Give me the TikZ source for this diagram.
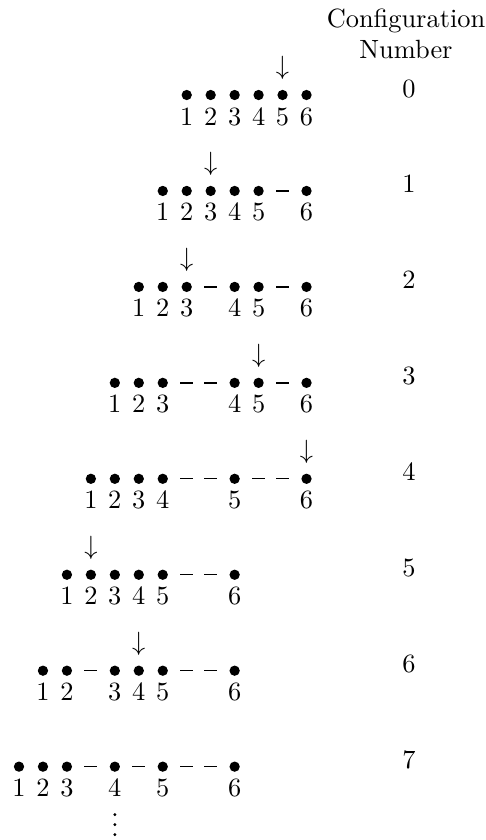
\documentclass[tikz,border=0pt]{standalone}
\usetikzlibrary{calc}
\begin{document}
\begin{tikzpicture}[x=0.379pt,y=-0.379pt,
  dot/.style={circle,fill=black,inner sep=0pt,minimum size=3.9pt},
  gap/.style={rectangle,fill=black,inner sep=0pt,minimum width=5pt,minimum height=0.5pt},
  idx/.style={anchor=base,inner sep=0pt},
  pick/.style={inner sep=0pt},
  cfg/.style={anchor=base,inner sep=0pt},
  tiny/.style={circle,fill=black,inner sep=0pt,minimum size=1.2pt}]
\useasboundingbox (0,0) rectangle (486,840);

% column header
\node[cfg] (hd1) at (406,27) {Configuration};
\node[cfg] (hd2) at (406,58) {Number};

% particles of each configuration, with their labels and the marked one
\foreach \r/\bl/\a in {0/{7,8,9,10,11,12}/5,
                       1/{6,7,8,9,10,12}/3,
                       2/{5,6,7,9,10,12}/3,
                       3/{4,5,6,9,10,12}/5,
                       4/{3,4,5,6,9,12}/6,
                       5/{2,3,4,5,6,9}/2,
                       6/{1,2,4,5,6,9}/4,
                       7/{0,1,2,4,6,9}/0}{
  \foreach \c [count=\n] in \bl {
    \node[dot] (b\r-\n) at ({19+23.96*\c},{95+95.95*\r}) {};
    \node[idx] (n\r-\n) at ($(b\r-\n)+(0,30)$) {\n};
  }
  \ifnum\a>0
    \node[pick] (a\r) at ($(b\r-\a)+(0,-27)$) {$\downarrow$};
  \fi
  \node[cfg] (c\r) at (409,{97+95.95*\r}) {\r};
}

% empty sites
\foreach \r/\c in {1/11, 2/8, 2/11, 3/7, 3/8, 3/11, 4/7, 4/8, 4/10, 4/11,
                   5/7, 5/8, 6/3, 6/7, 6/8, 7/3, 7/5, 7/7, 7/8}{
  \node[gap] (d\r-\c) at ({19+23.96*\c},{95+95.95*\r}) {};
}

% continuation dots
\foreach \k in {0,1,2}{
  \node[tiny] (v\k) at ($(b7-4)+(0,{48+10*\k})$) {};
}
\end{tikzpicture}
\end{document}
